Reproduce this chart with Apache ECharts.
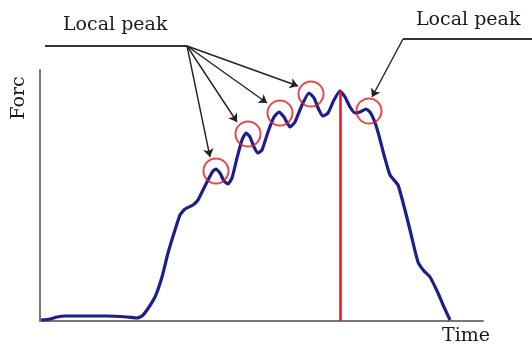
<!DOCTYPE html>
<html>
<head>
<meta charset="utf-8">
<script src="https://cdn.jsdelivr.net/npm/echarts@6/dist/echarts.min.js"></script>
<style>html,body{margin:0;padding:0;background:#fff}#c{width:532px;height:345px}</style>
</head>
<body>
<div id="c"></div>
<script>
// Force-time curve (time units, force units)
var time = [1,10,17,25,37,67,87,97,102,107,115,122,128,135,140,145,153,158,163,168,173,176,180,184,188,192,197,202,206,210,214,218,222,228,234,239,244,250,255,262,269,274,279,283,288,294,300,305,310,315,320,326,330,334,338,344,350,358,365,370,378,384,390,398,404,410];
var force = [1,2,4,5,5,5,4,3,5,11,24,44,68,91,106,112,116,121,131,141,150,152,148,140,137,143,163,181,188,184,174,168,171,189,204,209,204,194,199,216,228,223,211,205,208,221,230,224,214,208,209,212,209,201,189,166,146,136,111,91,59,50,44,28,14,1];
// Local peaks (circled)
var peakTime = [176,208,240,271,329];
var peakForce = [150,187,208,227,210];
// Global maximum (red line)
var maxTime = 300, maxForce = 230;
// Annotation anchors
var labelTimeL = 147, labelForceL = 275;
var arrowTipsL = [[170,164],[197,199],[227,218],[258,235]];
var labelLineL = [[5,275],[147,275]];
var labelLineR = [[492,282],[363,282]];
var arrowR = [[363,282],[332,224]];
var axisMaxTime = 443, axisMaxForce = 251;

var chart = echarts.init(document.getElementById('c'));
var curve = time.map(function(t,i){return [t, force[i]];});
var peaks = peakTime.map(function(t,i){return [t, peakForce[i]];});
var arrowData = arrowTipsL.map(function(p){return {coords:[[labelTimeL,labelForceL],p]};});
arrowData.push({coords:arrowR});

var font = '"DejaVu Serif","Liberation Serif",serif';
chart.setOption({
  animation:false,
  grid:{left:40,right:49,top:70,bottom:24},
  xAxis:{type:'value',min:0,max:axisMaxTime,axisLine:{show:true,lineStyle:{color:'#777',width:2}},axisTick:{show:false},axisLabel:{show:false},splitLine:{show:false}},
  yAxis:{type:'value',min:0,max:axisMaxForce,axisLine:{show:true,lineStyle:{color:'#777',width:2}},axisTick:{show:false},axisLabel:{show:false},splitLine:{show:false}},
  graphic:[
    {type:'text',left:63,top:16,style:{text:'Local peak',font:'19px '+font,fill:'#1a1a1a'}},
    {type:'text',left:416,top:11,style:{text:'Local peak',font:'19px '+font,fill:'#1a1a1a'}},
    {type:'text',left:442,top:327,style:{text:'Time',font:'19px '+font,fill:'#1a1a1a'}},
    {type:'text',x:29,y:98,rotation:Math.PI/2,style:{text:'Forc',font:'19px '+font,fill:'#1a1a1a',align:'center',verticalAlign:'bottom'}}
  ],
  series:[
    {type:'line',data:curve,showSymbol:false,smooth:0.15,lineStyle:{color:'#1c1f8a',width:3.2},z:3,
     markLine:{silent:true,symbol:['none','none'],label:{show:false},lineStyle:{color:'#e01818',width:2.5,type:'solid'},
       data:[[{coord:[maxTime,0]},{coord:[maxTime,maxForce]}]]}},
    {type:'scatter',data:peaks,symbol:'circle',symbolSize:25,itemStyle:{color:'rgba(0,0,0,0)',borderColor:'#e3191f',borderWidth:2},z:4},
    {type:'lines',coordinateSystem:'cartesian2d',clip:false,symbol:['none','arrow'],symbolSize:8,
     lineStyle:{color:'#222',width:1.4,opacity:1},data:arrowData,z:5},
    {type:'lines',coordinateSystem:'cartesian2d',clip:false,symbol:['none','none'],
     lineStyle:{color:'#333',width:2,opacity:1},data:[{coords:labelLineL},{coords:labelLineR}],z:5}
  ]
});
</script>
</body>
</html>
